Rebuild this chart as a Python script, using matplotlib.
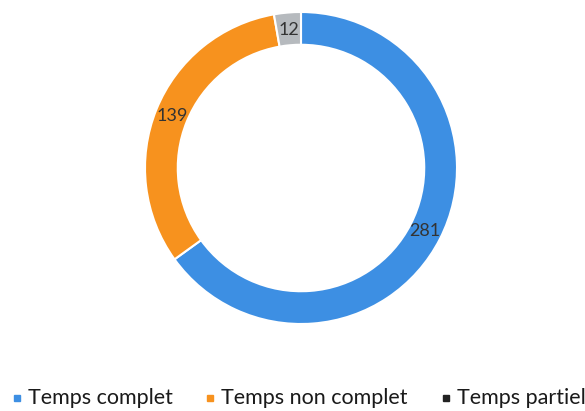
import matplotlib.pyplot as plt
from matplotlib.lines import Line2D

categories = ['Temps complet', 'Temps non complet', 'Temps partiel']
values = [281, 139, 12]
colors = ['#3D8FE3', '#F7921E', '#B6BABE']
legend_colors = ['#3D8FE3', '#F7921E', '#222222']
legend_x = [17, 210, 446]  # marker centre of each legend entry, in pixels

plt.rcParams['font.family'] = ['Lato', 'DejaVu Sans']

W, H = 585, 411
fig = plt.figure(figsize=(W / 100, H / 100), dpi=100)
ax = fig.add_axes([(301 - 156) / W, (H - 168 - 156) / H, 312 / W, 312 / H])

wedges, texts = ax.pie(values, colors=colors, startangle=90, counterclock=False,
                       radius=1.0, labels=[str(v) for v in values], labeldistance=0.89,
                       wedgeprops=dict(width=0.21, edgecolor='white', linewidth=1.5),
                       textprops=dict(fontsize=13, color='#333333', ha='center', va='center'))
ax.set_xlim(-1, 1)
ax.set_ylim(-1, 1)
ax.set_aspect('equal')
ax.axis('off')

# legend drawn by hand so the uneven spacing can be matched
ly = 1 - 398 / H
for label, c, x in zip(categories, legend_colors, legend_x):
    fig.add_artist(Line2D([x / W], [ly], marker='s', linestyle='none', markersize=4.5,
                          markerfacecolor=c, markeredgecolor=c, transform=fig.transFigure))
    fig.text((x + 11) / W, ly, label, fontsize=15.5, color='#1a1a1a', ha='left', va='center')

fig.savefig('out.png', dpi=100)
